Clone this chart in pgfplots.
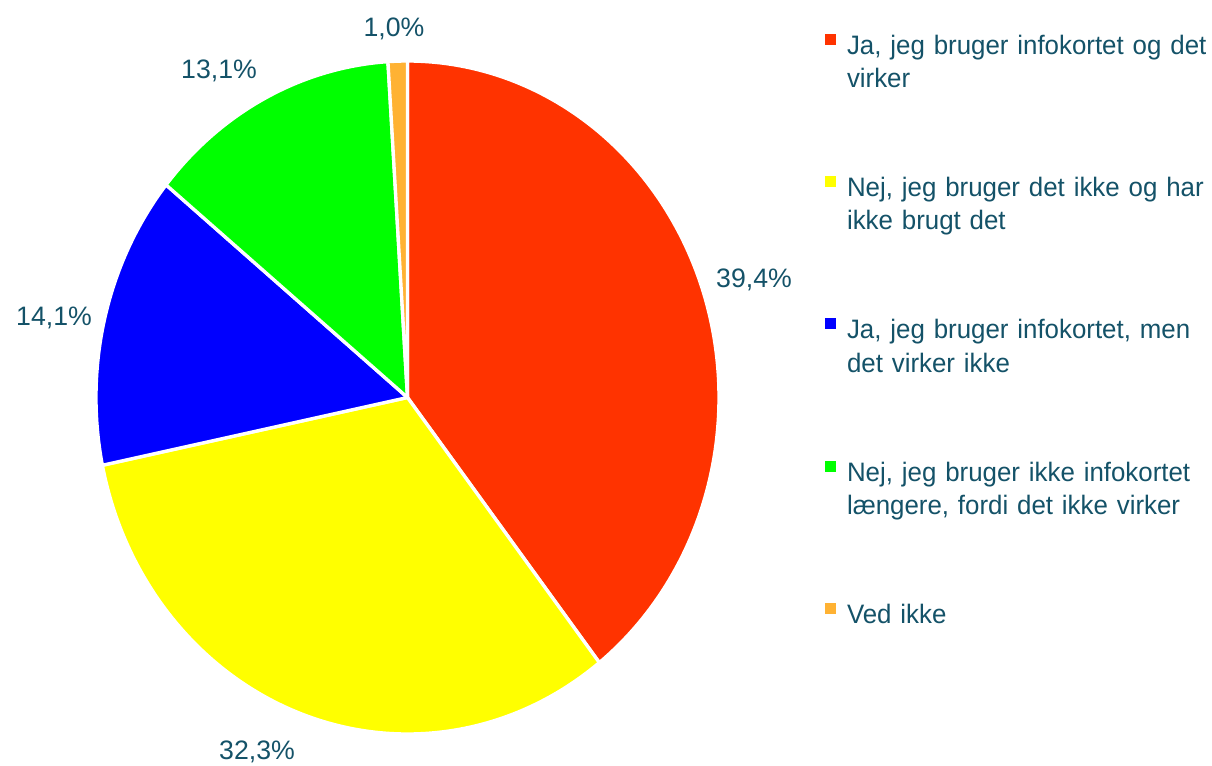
\documentclass[border=0pt]{standalone}
\usepackage{pgfplots}
\pgfplotsset{compat=1.18}
\usepackage{pgfplotstable}
\usepackage{fontspec}
\setmainfont{Liberation Sans}
\newfontfamily\lgfamily{Liberation Sans}[FakeStretch=0.97]
\definecolor{tc}{RGB}{20,82,104}
\definecolor{cRed}{RGB}{255,51,0}
\definecolor{cYel}{RGB}{255,255,0}
\definecolor{cBlu}{RGB}{0,0,255}
\definecolor{cGrn}{RGB}{0,255,0}
\definecolor{cOra}{RGB}{255,178,51}
\pgfplotstableread{
pct
39.4
32.3
14.1
13.1
1.0
}\piedata
\newcommand{\lfont}{\fontsize{20}{25}\selectfont}
\newcommand{\gfont}{\lgfamily\fontsize{20}{25}\selectfont}
\begin{document}
\begin{tikzpicture}
\pgfplotstablegetelem{0}{pct}\of\piedata \let\pA\pgfplotsretval
\pgfplotstablegetelem{1}{pct}\of\piedata \let\pB\pgfplotsretval
\pgfplotstablegetelem{2}{pct}\of\piedata \let\pC\pgfplotsretval
\pgfplotstablegetelem{3}{pct}\of\piedata \let\pD\pgfplotsretval
\pgfplotstablegetelem{4}{pct}\of\piedata \let\pE\pgfplotsretval
\pgfmathsetmacro\total{\pA+\pB+\pC+\pD+\pE}
\pgfmathsetmacro\aO{90}
\pgfmathsetmacro\aA{\aO-360*\pA/\total}
\pgfmathsetmacro\aB{\aA-360*\pB/\total}
\pgfmathsetmacro\aC{\aB-360*\pC/\total}
\pgfmathsetmacro\aD{\aC-360*\pD/\total}
\pgfmathsetmacro\aE{\aD-360*\pE/\total}
\def\cx{407.5}\def\cy{367.5}\def\rx{311.5}\def\ry{336.5}
\begin{axis}[
  scale only axis, width=909pt, height=573.75pt,
  xmin=0, xmax=1212, ymin=0, ymax=765,
  hide axis, clip=false,
  legend style={at={(axis cs:825,734.3)}, anchor=north west, draw=none, fill=none,
    inner sep=0pt, outer sep=0pt, row sep=87.75pt, column sep=8.25pt,
    font=\gfont, text=tc,
    nodes={inner sep=0pt, text width=370pt, align=left},
    cells={anchor=base west}},
  legend image code/.code={\fill[#1,draw=none] (0pt,7pt) rectangle (8.25pt,15.25pt);},
  every axis plot/.append style={draw=white, line width=2.5pt, line join=round, samples=120},
]
\addplot[fill=cRed, domain=\aA:\aO] ({\cx+\rx*cos(x)},{\cy+\ry*sin(x)}) -- (\cx,\cy) -- cycle;
\addlegendentry{\strut Ja, jeg bruger infokortet og det\\virker\strut}
\addplot[fill=cYel, domain=\aB:\aA] ({\cx+\rx*cos(x)},{\cy+\ry*sin(x)}) -- (\cx,\cy) -- cycle;
\addlegendentry{\strut Nej, jeg bruger det ikke og har\\ikke brugt det\strut}
\addplot[fill=cBlu, domain=\aC:\aB] ({\cx+\rx*cos(x)},{\cy+\ry*sin(x)}) -- (\cx,\cy) -- cycle;
\addlegendentry{\strut Ja, jeg bruger infokortet, men\\det virker ikke\strut}
\addplot[fill=cGrn, domain=\aD:\aC] ({\cx+\rx*cos(x)},{\cy+\ry*sin(x)}) -- (\cx,\cy) -- cycle;
\addlegendentry{\strut Nej, jeg bruger ikke infokortet\\længere, fordi det ikke virker\strut}
\addplot[fill=cOra, domain=\aE:\aD] ({\cx+\rx*cos(x)},{\cy+\ry*sin(x)}) -- (\cx,\cy) -- cycle;
\addlegendentry{\strut Ved ikke\strut}
\node[anchor=base, text=tc, font=\lfont, inner sep=0pt] at (axis cs:754,478) {39,4\%};
\node[anchor=base, text=tc, font=\lfont, inner sep=0pt] at (axis cs:257,6) {32,3\%};
\node[anchor=base, text=tc, font=\lfont, inner sep=0pt] at (axis cs:54,440) {14,1\%};
\node[anchor=base, text=tc, font=\lfont, inner sep=0pt] at (axis cs:219,686) {13,1\%};
\node[anchor=base, text=tc, font=\lfont, inner sep=0pt] at (axis cs:394,728) {1,0\%};
\end{axis}
\pgfresetboundingbox
\path (0,0) rectangle (909pt,573.75pt);
\end{tikzpicture}
\end{document}
